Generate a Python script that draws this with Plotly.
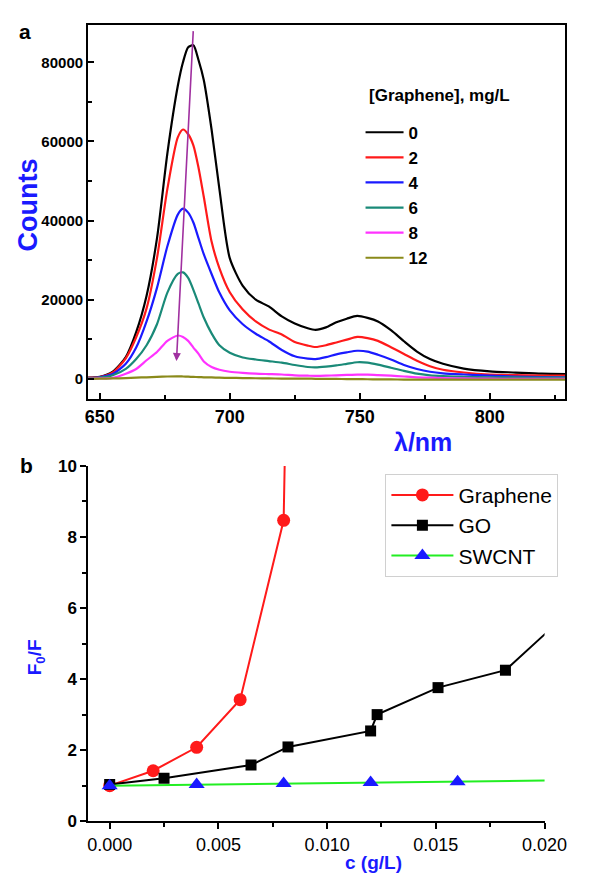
import plotly.graph_objects as go

FONT = "Liberation Sans"

# ---------------- Panel a data ----------------
wavelength = [645, 650, 655, 660, 664, 668, 672, 676, 680, 682, 684, 686, 688, 690, 693, 696,
              700, 705, 710, 715, 720, 725, 730, 733, 737, 741, 745, 749, 753, 757, 762, 767,
              772, 777, 782, 790, 800, 810, 820, 830]

counts_0 = [300, 500, 1800, 5500, 11800, 21000, 35500, 57000, 74000, 80000, 83800, 84300, 80500,
            75500, 63000, 48000, 30500, 23500, 20000, 18300, 15800, 14000, 12800, 12400, 13000,
            14300, 15200, 15900, 15400, 14500, 12300, 9500, 6900, 5000, 3800, 2600, 1900, 1600,
            1300, 1200]
counts_2 = [250, 450, 1600, 5200, 10500, 17800, 30500, 48000, 61000, 63000, 61800, 59000, 53300,
            46000, 34700, 28000, 21900, 17500, 14500, 12500, 11200, 9300, 8400, 8050, 8500, 9200,
            9900, 10600, 10300, 9600, 8000, 6300, 4600, 3200, 2300, 1600, 1100, 950, 850, 800]
counts_4 = [200, 400, 1200, 3800, 7900, 14500, 23000, 33500, 41500, 43000, 42000, 39500, 35500,
            31500, 26500, 21800, 17300, 13800, 11400, 9500, 7300, 5700, 5100, 5000, 5500, 6200,
            6700, 7100, 6900, 6100, 4900, 3500, 2500, 1800, 1400, 1100, 800, 600, 450, 400]
counts_6 = [150, 300, 900, 2500, 5000, 8500, 13800, 21800, 26500, 26900, 25500, 22500, 19000,
            15500, 11500, 8500, 6600, 5400, 4900, 4500, 4100, 3500, 3000, 2900, 3100, 3400,
            3800, 4200, 4100, 3600, 2800, 2000, 1300, 900, 700, 500, 400, 350, 320, 300]
counts_8 = [50, 100, 250, 1300, 2500, 4700, 6800, 9600, 10950, 10600, 9600, 7900, 6300, 4400,
            3000, 2300, 1800, 1500, 1300, 1200, 1100, 900, 800, 750, 800, 900, 1000, 1050, 1050,
            950, 800, 600, 400, 300, 200, 100, 50, 0, 0, 0]
counts_12 = [0, 50, 100, 200, 300, 400, 500, 600, 650, 600, 550, 500, 450, 400, 350, 300, 250,
             200, 150, 100, 80, 60, 50, 20, 0, -20, -50, -80, -100, -120, -150, -170, -180, -190,
             -200, -200, -200, -200, -200, -200]

spectra_labels = ["0", "2", "4", "6", "8", "12"]
spectra_series = [counts_0, counts_2, counts_4, counts_6, counts_8, counts_12]
spectra_colors = ["#000000", "#ff1a1a", "#1a1aff", "#1a8a78", "#ff33ff", "#8a8a1a"]

arrow_tail = (686.0, 88500)
arrow_head = (679.5, 4500)

# ---------------- Panel b data ----------------
graphene_c = [0.0, 0.002, 0.004, 0.006, 0.008, 0.012]
graphene_f = [1.0, 1.42, 2.08, 3.42, 8.47, 140.0]
go_c = [0.0, 0.0025, 0.0065, 0.0082, 0.0120, 0.0123, 0.0151, 0.0182, 0.0215]
go_f = [1.03, 1.21, 1.58, 2.09, 2.54, 3.00, 3.76, 4.25, 6.10]
swcnt_c = [0.0, 0.004, 0.008, 0.012, 0.016, 0.021]
swcnt_f = [1.0, 1.03, 1.06, 1.09, 1.11, 1.15]

W, H = 591, 885


def px(x):
    return x / W


def py(y):
    return 1 - y / H


fig = go.Figure()

for lab, ser, col in zip(spectra_labels, spectra_series, spectra_colors):
    fig.add_trace(go.Scatter(x=wavelength, y=ser, mode="lines", name=lab,
                             line=dict(color=col, width=2.2, shape="spline", smoothing=0.7),
                             xaxis="x", yaxis="y", legend="legend"))

fig.add_trace(go.Scatter(x=graphene_c, y=graphene_f, mode="lines+markers", name="Graphene",
                         line=dict(color="#ff1a1a", width=2),
                         marker=dict(symbol="circle", size=13, color="#ff1a1a"),
                         xaxis="x2", yaxis="y2", legend="legend2"))
fig.add_trace(go.Scatter(x=go_c, y=go_f, mode="lines+markers", name="GO",
                         line=dict(color="#000000", width=2),
                         marker=dict(symbol="square", size=11, color="#000000"),
                         xaxis="x2", yaxis="y2", legend="legend2"))
fig.add_trace(go.Scatter(x=swcnt_c, y=swcnt_f, mode="lines+markers", name="SWCNT",
                         line=dict(color="#22ee22", width=2),
                         marker=dict(symbol="triangle-up", size=14, color="#1a1aff"),
                         xaxis="x2", yaxis="y2", legend="legend2"))

axis_common = dict(showline=True, linecolor="black", linewidth=2,
                   tickcolor="black", tickwidth=1.5, ticklen=6, showgrid=False, zeroline=False)

fig.update_layout(
    width=W, height=H, autosize=False,
    margin=dict(l=0, r=0, t=0, b=0),
    paper_bgcolor="white", plot_bgcolor="white",
    font=dict(family=FONT, color="black"),
    xaxis=dict(domain=[px(89), px(588)], anchor="y", range=[645.5, 829],
               tickvals=[650, 700, 750, 800], mirror=True, ticks="inside",
               minor=dict(dtick=25, tick0=650, ticks="inside", ticklen=4, tickcolor="black"),
               tickfont=dict(size=18, weight="bold"), **axis_common),
    yaxis=dict(domain=[py(399), py(16)], anchor="x", range=[-5200, 89500],
               tickvals=[0, 20000, 40000, 60000, 80000], tickformat="d", mirror=True,
               ticks="inside",
               minor=dict(dtick=10000, tick0=0, ticks="inside", ticklen=4, tickcolor="black"),
               tickfont=dict(size=15, weight="bold"), **axis_common),
    xaxis2=dict(domain=[px(89.3), px(566.5)], anchor="y2", range=[-0.00098, 0.020],
                tickvals=[0.0, 0.005, 0.010, 0.015, 0.020], tickformat=".3f", ticks="outside",
                minor=dict(dtick=0.0025, tick0=0, ticks="outside", ticklen=4, tickcolor="black"),
                tickfont=dict(size=18), **axis_common),
    yaxis2=dict(domain=[py(830), py(467)], anchor="x2", range=[0, 10],
                tickvals=[0, 2, 4, 6, 8, 10], ticks="outside",
                minor=dict(dtick=1, tick0=0, ticks="outside", ticklen=4, tickcolor="black"),
                tickfont=dict(size=17, weight="bold"), **axis_common),
    legend=dict(x=px(374), y=py(108), xanchor="left", yanchor="top",
                bgcolor="rgba(0,0,0,0)", borderwidth=0, itemwidth=38,
                font=dict(size=17, weight="bold", family=FONT), tracegroupgap=0),
    legend2=dict(x=px(400), y=py(475), xanchor="left", yanchor="top",
                 bgcolor="white", bordercolor="#d0d0d0", borderwidth=1, itemwidth=62,
                 font=dict(size=21, family=FONT)),
)

fig.add_annotation(x=arrow_head[0], y=arrow_head[1], ax=arrow_tail[0], ay=arrow_tail[1],
                   xref="x", yref="y", axref="x", ayref="y", showarrow=True,
                   arrowhead=2, arrowsize=1, arrowwidth=1.6, arrowcolor="#a030a0", text=" ",
                   font=dict(size=2))

blue = "#1a1aff"
texts = [
    dict(text="a", x=23, y=23, size=21, color="black", bold=True),
    dict(text="b", x=25, y=467, size=21, color="black", bold=True),
    dict(text="[Graphene], mg/L", x=457, y=88, size=17, color="black", bold=True),
    dict(text="Counts", x=26, y=200, size=27, color=blue, bold=True, angle=-90),
    dict(text="λ/nm", x=439, y=442, size=25, color=blue, bold=True),
    dict(text="F<sub>0</sub>/F", x=34, y=663, size=19, color=blue, bold=True, angle=-90),
    dict(text="c (g/L)", x=388, y=872, size=19, color=blue, bold=True),
]
for t in texts:
    fig.add_annotation(text=t["text"], x=px(t["x"]), y=py(t["y"]), xref="paper", yref="paper",
                       showarrow=False, xanchor="center", yanchor="middle",
                       textangle=t.get("angle", 0),
                       font=dict(size=t["size"], color=t["color"], family=FONT,
                                 weight="bold" if t["bold"] else "normal"))

fig.write_html(
    "out.html",
    config={"displayModeBar": False, "responsive": False},
    post_script=("document.documentElement.style.margin='0';"
                 "document.documentElement.style.overflow='hidden';"
                 "document.body.style.margin='0';document.body.style.padding='0';"
                 "document.body.style.overflow='hidden';"),
)
